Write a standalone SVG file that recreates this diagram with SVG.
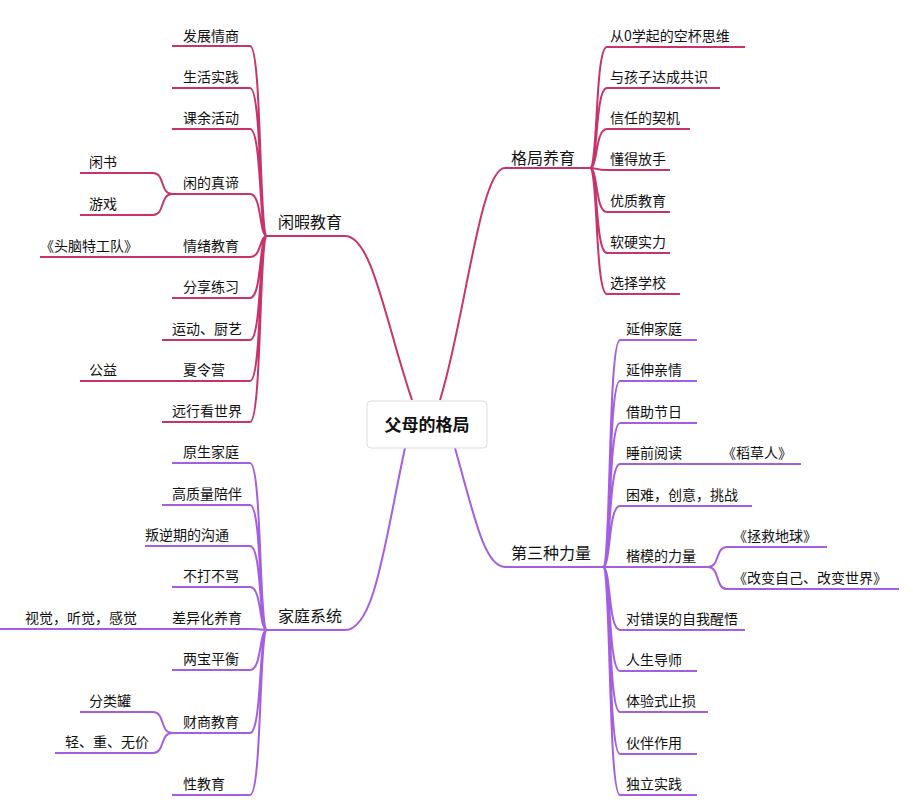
<svg xmlns="http://www.w3.org/2000/svg" width="913" height="800" viewBox="0 0 913 800">
<style>
text{font-family:"Noto Sans CJK SC","Liberation Sans",sans-serif;font-size:14px;fill:#111}
.m{font-size:16px}
.c{font-size:17px;font-weight:bold}
.p{fill:none;stroke:#c8336b;stroke-width:2}
.v{fill:none;stroke:#a45ee0;stroke-width:2}
</style>
<rect width="913" height="800" fill="#fff"/>
<g id="connectors">
<path class="p" d="M412,400 C385,320 372,236 345,236 L267,236"/>
<path class="p" d="M267,236 C259,236 262,46 250,46 L172,46 M267,236 C259,236 262,88 250,88 L172,88 M267,236 C259,236 262,129 250,129 L172,129 M267,236 C259,236 262,194 250,194 L172,194 M267,236 C259,236 262,257 250,257 L40,257 M267,236 C259,236 262,298 250,298 L172,298 M267,236 C259,236 262,340 250,340 L162,340 M267,236 C259,236 262,381 250,381 L80,381 M267,236 C259,236 262,422 250,422 L162,422"/>
<path class="p" d="M172,194 C160,194 165,173 153,173 L80,173 M172,194 C160,194 165,215 153,215 L80,215"/>
<path class="v" d="M405,448 C385,540 375,630 345,630 L267,630"/>
<path class="v" d="M267,630 C259,630 262,463 250,463 L172,463 M267,630 C259,630 262,505 250,505 L162,505 M267,630 C259,630 262,546 250,546 L145,546 M267,630 C259,630 262,587 250,587 L172,587 M267,630 C259,630 262,629 250,629 L0,629 M267,630 C259,630 262,670 250,670 L172,670 M267,630 C259,630 262,733 250,733 L172,733 M267,630 C259,630 262,795 250,795 L172,795"/>
<path class="v" d="M172,733 C160,733 165,712 153,712 L80,712 M172,733 C160,733 165,753 153,753 L55,753"/>
<path class="p" d="M440,400 C465,320 480,168 505,168 L590,168"/>
<path class="p" d="M590,168 C598,168 595,47 607,47 L745,47 M590,168 C598,168 595,88 607,88 L720,88 M590,168 C598,168 595,129 607,129 L690,129 M590,168 C598,168 595,170 607,170 L670,170 M590,168 C598,168 595,212 607,212 L670,212 M590,168 C598,168 595,253 607,253 L670,253 M590,168 C598,168 595,294 607,294 L680,294"/>
<path class="v" d="M455,448 C475,520 485,567 505,567 L603,567"/>
<path class="v" d="M603,567 C611,567 608,340 620,340 L697,340 M603,567 C611,567 608,381 620,381 L697,381 M603,567 C611,567 608,423 620,423 L697,423 M603,567 C611,567 608,464 620,464 L801,464 M603,567 C611,567 608,506 620,506 L752,506 M603,567 L708,567 M603,567 C611,567 608,630 620,630 L745,630 M603,567 C611,567 608,671 620,671 L697,671 M603,567 C611,567 608,712 620,712 L708,712 M603,567 C611,567 608,754 620,754 L697,754 M603,567 C611,567 608,795 620,795 L697,795"/>
<path class="v" d="M708,567 C720,567 715,547 727,547 L827,547 M708,567 C720,567 715,589 727,589 L899,589"/>
</g>
<g id="center"><rect x="367" y="401" width="120" height="47" rx="4" fill="#fff" stroke="#ddd"/><text class="c" x="427" y="431" text-anchor="middle">父母的格局</text></g>
<g id="n-xiaxia"><text class="m" x="278" y="228">闲暇教育</text>
<text x="183" y="41">发展情商</text><text x="183" y="82">生活实践</text><text x="183" y="123">课余活动</text><text x="183" y="188">闲的真谛</text><text x="89" y="167">闲书</text><text x="89" y="209">游戏</text><text x="183" y="251">情绪教育</text><text x="40" y="251">《头脑特工队》</text><text x="183" y="292">分享练习</text><text x="172" y="334">运动、厨艺</text><text x="183" y="375">夏令营</text><text x="89" y="375">公益</text><text x="172" y="416">远行看世界</text></g>
<g id="n-jiating"><text class="m" x="278" y="622">家庭系统</text>
<text x="183" y="457">原生家庭</text><text x="172" y="499">高质量陪伴</text><text x="145" y="540">叛逆期的沟通</text><text x="183" y="581">不打不骂</text><text x="172" y="623">差异化养育</text><text x="25" y="623">视觉，听觉，感觉</text><text x="183" y="664">两宝平衡</text><text x="183" y="727">财商教育</text><text x="89" y="706">分类罐</text><text x="65" y="747">轻、重、无价</text><text x="183" y="789">性教育</text></g>
<g id="n-geju"><text class="m" x="511" y="164">格局养育</text>
<text x="610" y="41">从0学起的空杯思维</text><text x="610" y="82">与孩子达成共识</text><text x="610" y="123">信任的契机</text><text x="610" y="164">懂得放手</text><text x="610" y="206">优质教育</text><text x="610" y="247">软硬实力</text><text x="610" y="288">选择学校</text></g>
<g id="n-disan"><text class="m" x="511" y="559">第三种力量</text>
<text x="626" y="334">延伸家庭</text><text x="626" y="375">延伸亲情</text><text x="626" y="417">借助节日</text><text x="626" y="458">睡前阅读</text><text x="722" y="458">《稻草人》</text><text x="626" y="500">困难，创意，挑战</text><text x="626" y="561">楷模的力量</text><text x="733" y="541">《拯救地球》</text><text x="733" y="583">《改变自己、改变世界》</text><text x="626" y="624">对错误的自我醒悟</text><text x="626" y="665">人生导师</text><text x="626" y="706">体验式止损</text><text x="626" y="748">伙伴作用</text><text x="626" y="789">独立实践</text></g>
</svg>
